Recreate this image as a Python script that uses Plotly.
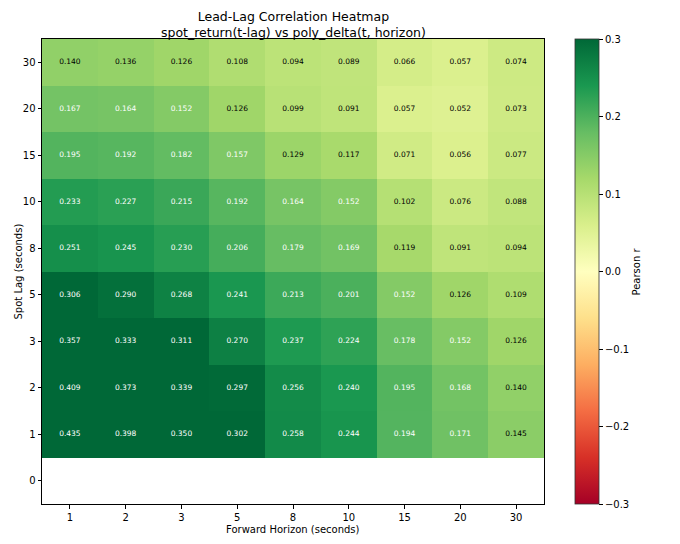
import plotly.graph_objects as go

horizons = ["1", "2", "3", "5", "8", "10", "15", "20", "30"]
lags = ["0", "1", "2", "3", "5", "8", "10", "15", "20", "30"]

# rows follow lags order (bottom to top); lag 0 has no data
r_lag0 = [None] * 9
r_lag1 = [0.435, 0.398, 0.350, 0.302, 0.258, 0.244, 0.194, 0.171, 0.145]
r_lag2 = [0.409, 0.373, 0.339, 0.297, 0.256, 0.240, 0.195, 0.168, 0.140]
r_lag3 = [0.357, 0.333, 0.311, 0.270, 0.237, 0.224, 0.178, 0.152, 0.126]
r_lag5 = [0.306, 0.290, 0.268, 0.241, 0.213, 0.201, 0.152, 0.126, 0.109]
r_lag8 = [0.251, 0.245, 0.230, 0.206, 0.179, 0.169, 0.119, 0.091, 0.094]
r_lag10 = [0.233, 0.227, 0.215, 0.192, 0.164, 0.152, 0.102, 0.076, 0.088]
r_lag15 = [0.195, 0.192, 0.182, 0.157, 0.129, 0.117, 0.071, 0.056, 0.077]
r_lag20 = [0.167, 0.164, 0.152, 0.126, 0.099, 0.091, 0.057, 0.052, 0.073]
r_lag30 = [0.140, 0.136, 0.126, 0.108, 0.094, 0.089, 0.066, 0.057, 0.074]

z = [r_lag0, r_lag1, r_lag2, r_lag3, r_lag5, r_lag8, r_lag10, r_lag15, r_lag20, r_lag30]

FONT = "DejaVu Sans"
L, R, T, B = 42, 136, 39, 40
PW = 680 - L - R
PH = 544 - T - B

fig = go.Figure()
fig.add_trace(go.Heatmap(
    x=horizons, y=lags, z=z,
    colorscale="RdYlGn", zmin=-0.3, zmax=0.3,
    hoverongaps=False,
    colorbar=dict(
        x=(575 - L) / PW, xanchor="left", xref="paper", xpad=0, ypad=0,
        y=0.5, yanchor="middle", len=1.0, lenmode="fraction",
        thickness=24, outlinewidth=0.8, outlinecolor="#333",
        tickvals=[-0.3, -0.2, -0.1, 0.0, 0.1, 0.2, 0.3],
        ticktext=["\u22120.3", "\u22120.2", "\u22120.1", "0.0", "0.1", "0.2", "0.3"],
        ticks="outside", ticklen=4, tickcolor="#000",
        tickfont=dict(family=FONT, size=10, color="#000"),
    ),
))

tx, ty, tt, tc = [], [], [], []
for yi, row in enumerate(z):
    for xi, v in enumerate(row):
        if v is None:
            continue
        tx.append(horizons[xi])
        ty.append(lags[yi])
        tt.append(f"{v:.3f}")
        tc.append("white" if v > 0.15 else "black")

fig.add_trace(go.Scatter(
    x=tx, y=ty, text=tt, mode="text",
    textfont=dict(family=FONT, size=7.5, color=tc),
    hoverinfo="skip", showlegend=False,
))

fig.add_annotation(
    text="Lead-Lag Correlation Heatmap<br>spot_return(t-lag) vs poly_delta(t, horizon)",
    xref="paper", yref="paper", x=0.5, y=1, xanchor="center", yanchor="bottom",
    yshift=-3, showarrow=False,
    font=dict(family=FONT, size=12.5, color="#000"),
)
fig.add_annotation(
    text="Pearson r", textangle=-90,
    xref="paper", yref="paper", x=(636 - L) / PW, y=0.5,
    xanchor="center", yanchor="middle", showarrow=False,
    font=dict(family=FONT, size=10, color="#000"),
)
fig.add_annotation(
    text="Forward Horizon (seconds)",
    xref="paper", yref="paper", x=0.5, y=-(529 - (544 - B)) / PH,
    xanchor="center", yanchor="middle", showarrow=False,
    font=dict(family=FONT, size=10, color="#000"),
)
fig.add_annotation(
    text="Spot Lag (seconds)", textangle=-90,
    xref="paper", yref="paper", x=(18 - L) / PW, y=0.5,
    xanchor="center", yanchor="middle", showarrow=False,
    font=dict(family=FONT, size=10, color="#000"),
)

fig.update_layout(
    width=680, height=544,
    margin=dict(l=L, r=R, t=T, b=B),
    paper_bgcolor="white", plot_bgcolor="white",
    font=dict(family=FONT, color="#000"),
    xaxis=dict(
        type="category", categoryorder="array", categoryarray=horizons,
        showgrid=False, zeroline=False, automargin=False,
        showline=True, linecolor="#000", linewidth=1, mirror=True,
        ticks="outside", ticklen=3.5, tickcolor="#000",
        tickfont=dict(family=FONT, size=10, color="#000"),
    ),
    yaxis=dict(
        type="category", categoryorder="array", categoryarray=lags,
        showgrid=False, zeroline=False, automargin=False,
        showline=True, linecolor="#000", linewidth=1, mirror=True,
        ticks="outside", ticklen=3.5, tickcolor="#000",
        tickfont=dict(family=FONT, size=10, color="#000"),
    ),
)

fig.write_html("out.html")
